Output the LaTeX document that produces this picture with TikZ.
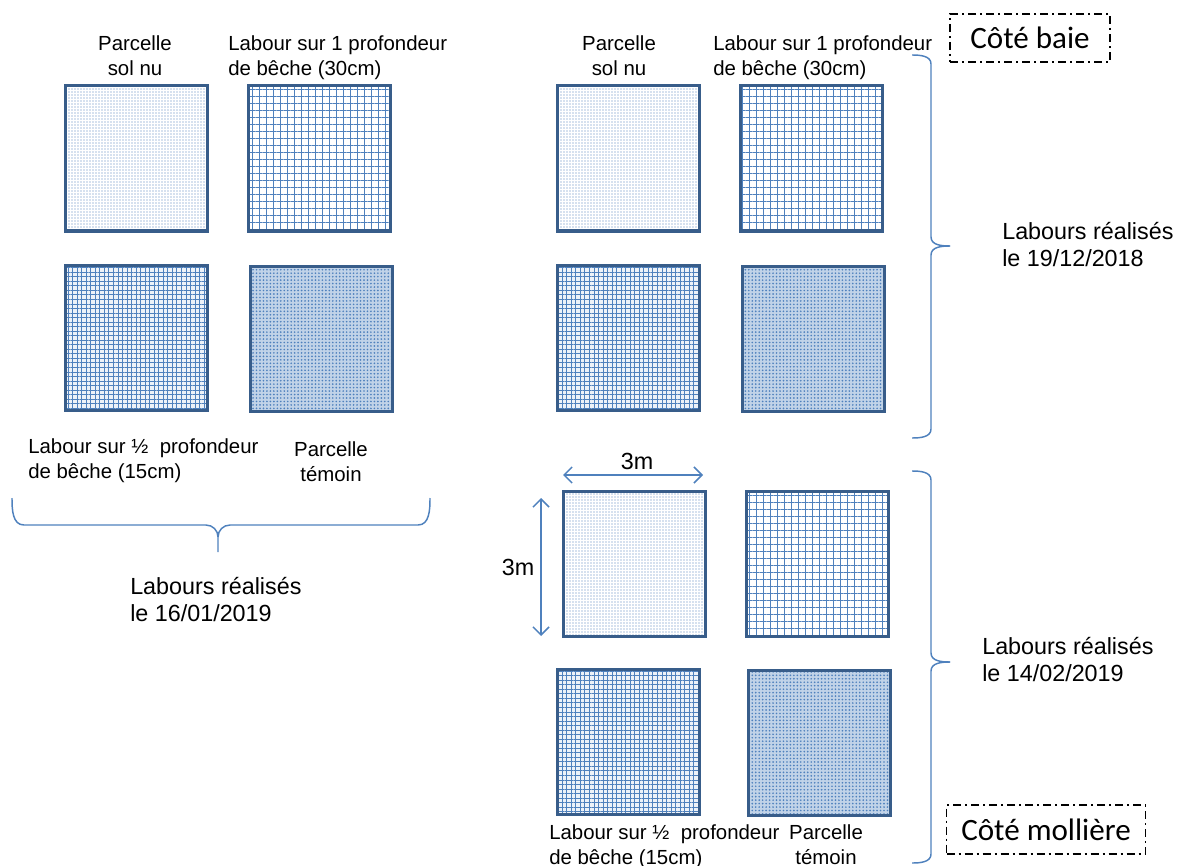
\documentclass[tikz,border=0pt]{standalone}
\usepackage{fontspec}
\setmainfont{Liberation Sans}
\newfontfamily\calfont{Carlito}
\usetikzlibrary{patterns.meta,arrows.meta}
\definecolor{edge}{HTML}{385D8A}
\definecolor{pat}{HTML}{4F81BD}
\tikzset{
  plotbox/.style={draw=edge, line width=2.25pt, minimum width=106.5pt, minimum height=108.75pt, inner sep=0pt},
  solnu/.style={plotbox, preaction={fill=white}, pattern={Dots[distance=2.25pt, radius=0.4pt]}, pattern color=pat},
  laboura/.style={plotbox, preaction={fill=white}, pattern={Hatch[distance=5.25pt, line width=0.6pt]}, pattern color=pat},
  labourb/.style={plotbox, preaction={fill=pat!10}, pattern={Hatch[distance=3.4pt, line width=0.48pt]}, pattern color=pat},
  temoin/.style={plotbox, preaction={fill=pat!35}, pattern={Dots[distance=2.6pt, radius=0.7pt]}, pattern color=pat},
  brc/.style={draw=pat, line width=1.1pt},
  dimline/.style={draw=pat, line width=1.1pt, >={Straight Barb[length=6pt,width=12pt]}, <->},
  small/.style={font=\fontsize{15.3pt}{18.75pt}\selectfont, inner sep=0pt},
  big/.style={font=\fontsize{17.5pt}{20.5pt}\selectfont, inner sep=0pt, align=left, anchor=north west},
  side/.style={draw, dash pattern=on 6pt off 3pt on 1.5pt off 3pt, line width=0.9pt, font=\calfont\fontsize{23.3pt}{28pt}\selectfont, inner sep=0pt}
}
\begin{document}
\begin{tikzpicture}[x=0.75pt,y=-0.75pt]
\useasboundingbox (0,0) rectangle (1187,866);

% ---------- left group (16/01/2019)
\node[solnu]   (l1) at (136,158.5) {};
\node[laboura] (l2) at (319,158.5) {};
\node[labourb] (l3) at (136,337.5) {};
\node[temoin]  (l4) at (321,338.5) {};
\node[small, align=center, anchor=north] (tl1) at (135,35) {Parcelle\\sol nu};
\node[small, align=left, anchor=north west] (tl2) at (228,35) {Labour sur 1 profondeur\\de bêche (30cm)};
\node[small, align=left, anchor=north west] (tl3) at (28,438) {Labour sur ½~ profondeur\\de bêche (15cm)};
\node[small, align=center, anchor=north] (tl4) at (331,441) {Parcelle\\témoin};
\draw[brc] (12,498) to[out=-90,in=180] (24,525) -- (206,525) to[out=0,in=90] (218,537) -- (218,552);
\draw[brc] (218,537) to[out=90,in=180] (230,525) -- (418,525) to[out=0,in=-90] (430,498);
\node[big] (dl) at (130,577) {Labours réalisés\\le 16/01/2019};

% ---------- right top group (19/12/2018)
\node[solnu]   (a1) at (628,158.5) {};
\node[laboura] (a2) at (811,158.5) {};
\node[labourb] (a3) at (628,337.5) {};
\node[temoin]  (a4) at (813,338.5) {};
\node[small, align=center, anchor=north] (ta1) at (619,35) {Parcelle\\sol nu};
\node[small, align=left, anchor=north west] (ta2) at (713,35) {Labour sur 1 profondeur\\de bêche (30cm)};
\draw[brc] (912,55) to[out=0,in=90] (931,64) -- (931,237) to[out=-90,in=180] (950,246);
\draw[brc] (950,246) to[out=180,in=90] (931,255) -- (931,429) to[out=-90,in=0] (912,438);
\node[big] (da) at (1002,222) {Labours réalisés\\le 19/12/2018};

% ---------- right bottom group (14/02/2019)
\node[solnu]   (b1) at (634,563.5) {};
\node[laboura] (b2) at (817,563.5) {};
\node[labourb] (b3) at (628,742) {};
\node[temoin]  (b4) at (819,742.5) {};
\coordinate (h1) at (563,475);
\coordinate (h2) at (703,475);
\coordinate (v1) at (541,498);
\coordinate (v2) at (541,636);
\draw[dimline] (h1) -- (h2);
\draw[dimline] (v1) -- (v2);
\node[big, anchor=center] (m1) at (637,461) {3m};
\node[big, anchor=center] (m2) at (518,567) {3m};
\node[small, align=left, anchor=north west] (tb3) at (549,824) {Labour sur ½~ profondeur\\de bêche (15cm)};
\node[small, align=center, anchor=north] (tb4) at (826,824) {Parcelle\\témoin};
\draw[brc] (912,471) to[out=0,in=90] (931,480) -- (931,653) to[out=-90,in=180] (950,662);
\draw[brc] (950,662) to[out=180,in=90] (931,671) -- (931,854) to[out=-90,in=0] (912,863);
\node[big] (db) at (982,637) {Labours réalisés\\le 14/02/2019};

% ---------- side labels
\node[side, minimum width=120pt, minimum height=36pt] (baie) at (1030,38) {Côté baie};
\node[side, minimum width=149pt, minimum height=36.75pt] (moll) at (1046,829.5) {Côté mollière};
\end{tikzpicture}
\end{document}
